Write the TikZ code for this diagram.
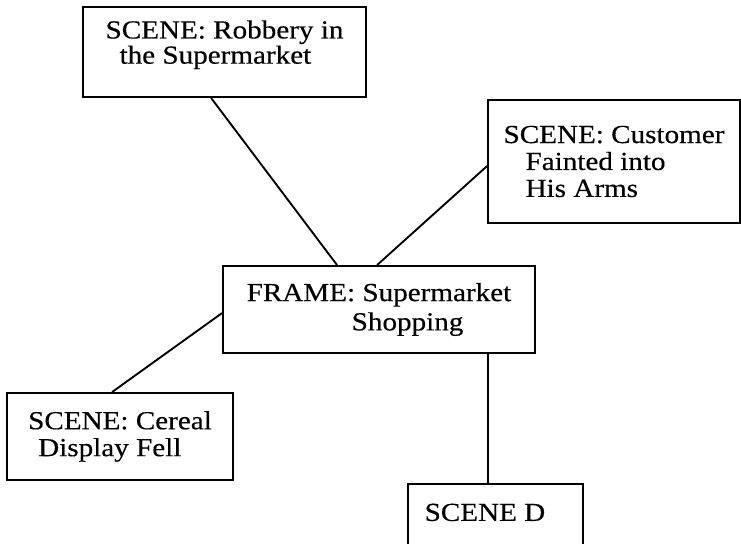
\documentclass[tikz,border=0pt]{standalone}
\usepackage{fontspec}
\setmainfont{Liberation Serif}[FakeStretch=1.12,FakeBold=0.4]
\usepackage{tikz}
\usetikzlibrary{calc}

\begin{document}
\begin{tikzpicture}[
      scenebox/.style={draw=black,line width=1.6pt,align=left,inner sep=0pt,
            font=\fontsize{22.2pt}{23pt}\selectfont},
      link/.style={line width=1.6pt}]
            \useasboundingbox (0,0) rectangle (22.23,16.32);
            \clip (0,0) rectangle (22.23,16.32);
            \node[scenebox,minimum width=8.49cm,minimum height=2.7cm] (robbery) 
            at (6.735,14.76) {SCENE: Robbery in\\[-1.5pt]\hspace*{0.42cm}the Supermarket\\[-6pt]};
            \node[scenebox,minimum width=7.56cm,minimum height=3.69cm] (fainted) 
            at (18.42,11.475) {SCENE: Customer\\\hspace*{0.66cm}Fainted into\\\hspace*{0.66cm}His Arms};
            \node[scenebox,minimum width=9.36cm,minimum height=2.61cm] (frame) 
            at (11.37,7.035) {FRAME: Supermarket\\[2pt]\hspace*{3.15cm}Shopping};
            \node[scenebox,minimum width=6.78cm,minimum height=2.61cm] (cereal) 
            at (3.6,3.225) {SCENE: Cereal\\\hspace*{0.3cm}Display Fell};
            \node[scenebox,minimum width=5.25cm,text height=1.11cm,text depth=1.2cm,
            anchor=north west] (sceneD) at (12.21,1.83) {SCENE D\hspace*{0.63cm}};
            \draw[link] ([xshift=3.87cm]robbery.south west) -- ([xshift=3.45cm]frame.north west);
            \draw[link] ([yshift=-2.01cm]fainted.north west) -- ([xshift=4.65cm]frame.north west);
            \draw[link] ([yshift=-1.44cm]frame.north west) -- ([xshift=3.18cm]cereal.north west);%
            \coordinate (down) at ([xshift=7.98cm]frame.south west);
            \draw[link] (down) -- (down |- sceneD.north);
      \end{tikzpicture}
\end{document}
